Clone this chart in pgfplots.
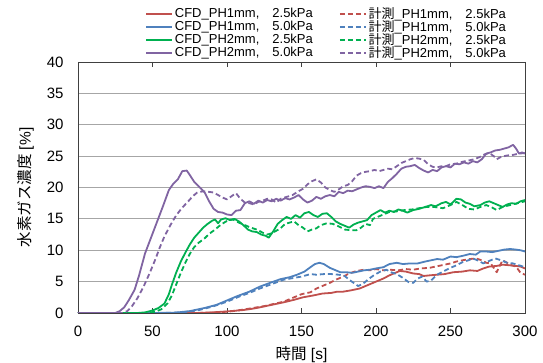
\documentclass[border=0pt]{standalone}
\usepackage{pgfplots}
\pgfplotsset{compat=1.18}
\usepackage{fontspec}
\setmainfont{Liberation Sans}
\newfontfamily\jp{Noto Sans CJK JP}
\definecolor{cred}{HTML}{C0504D}
\definecolor{cblue}{HTML}{4F81BD}
\definecolor{cgreen}{HTML}{00B050}
\definecolor{cpurple}{HTML}{8064A2}
\definecolor{axgray}{HTML}{404040}
\definecolor{grgray}{HTML}{A6A6A6}
\begin{document}
\begin{tikzpicture}
\begin{axis}[
  at={(0pt,0pt)}, anchor=south west,
  scale only axis, width=447pt, height=251pt,
  xmin=0, xmax=300, ymin=0, ymax=40,
  xtick={0,50,...,300}, ytick={0,5,...,40},
  ymajorgrids, grid style={grgray, line width=0.8pt},
  axis line style={axgray, line width=0.9pt},
  tick align=inside, major tick length=5pt,
  tick style={axgray, line width=0.8pt},
  ytick style={draw=none},
  /pgf/number format/assume math mode=true,
  ticklabel style={font=\fontsize{15}{16}\selectfont},
  xticklabel style={yshift=-9pt},
  yticklabel style={xshift=-11pt},
  xlabel={{\jp 時間} [s]},
  ylabel={{\jp 水素ガス濃度} [\%]},
  label style={font=\fontsize{15.5}{17}\selectfont},
  xlabel style={yshift=-3pt},
  ylabel style={yshift=6pt},
  legend columns=2,
  legend style={draw=none, fill=none, at={(rel axis cs:0.556,1.225)}, anchor=north,
    font=\fontsize{13}{13}\selectfont, row sep=-3.5pt, inner sep=0pt,
    /tikz/every even column/.style={column sep=24pt}},
  legend cell align=left,
  legend image code/.code={\draw[#1] (0pt,0pt) -- (26pt,0pt);},
  every axis plot/.append style={line width=1.8pt, line join=round},
]
% CFD PH1 2.5
\addplot[cred] coordinates {(0,0)(60,0)(80,0)(90,0.1)(100,0.25)(110,0.45)(115,0.6)(120,0.8)(130,1.3)(138,1.7)(145,2.1)(151,2.5)(158,2.8)(164,3.1)(170,3.2)(174,3.4)(178,3.4)(183,3.6)(189,3.9)(195,4.5)(200,5.0)(205,5.5)(209,6.0)(213,6.4)(216,6.7)(220,6.6)(225,6.3)(229,6.2)(232,5.9)(236,6.0)(241,6.1)(246,6.2)(252,6.5)(258,6.6)(263,6.8)(268,6.7)(272,7.1)(276,7.4)(281,7.5)(285,7.7)(290,7.6)(294,7.5)(297,7.4)(300,7.1)};
\addlegendentry{CFD\_PH1mm,\hspace{1em}2.5kPa}
% meas PH1 2.5
\addplot[cred, dash pattern=on 5pt off 3pt] coordinates {(0,0)(80,0)(95,0.1)(104,0.3)(115,0.7)(125,1.1)(138,1.8)(145,2.5)(150,3.0)(156,3.3)(160,3.9)(165,4.4)(169,4.8)(173,5.3)(178,5.8)(182,6.3)(187,6.7)(192,6.9)(196,6.8)(200,7.0)(205,6.8)(209,6.9)(215,6.8)(220,7.0)(225,6.9)(230,7.1)(236,7.2)(242,7.5)(246,7.7)(250,7.9)(254,8.2)(258,8.4)(263,8.6)(267,8.7)(271,8.4)(274,8.0)(277,7.9)(279,7.2)(281,6.5)(283,7.5)(285,8.4)(288,8.0)(291,7.6)(294,7.4)(297,6.4)(300,6.1)};
\addlegendentry{{\jp 計測}\_PH1mm,\hspace{1em}2.5kPa}
% CFD PH1 5.0
\addplot[cblue] coordinates {(0,0)(50,0)(65,0.05)(75,0.3)(85,0.8)(93,1.3)(100,2.0)(107,2.7)(115,3.4)(122,4.2)(130,4.9)(136,5.4)(142,5.7)(147,6.1)(152,6.6)(156,7.3)(159,7.8)(162,8.0)(165,7.8)(169,7.2)(173,6.8)(176,6.5)(180,6.5)(184,6.4)(188,6.6)(192,6.8)(196,6.9)(200,7.1)(205,7.3)(209,7.8)(214,8.0)(218,7.8)(223,7.9)(228,7.9)(233,8.2)(237,8.4)(241,8.6)(245,8.5)(250,9.0)(254,8.9)(258,9.1)(263,9.4)(267,9.3)(270,9.8)(274,9.8)(278,9.7)(282,9.9)(286,10.1)(290,10.2)(294,10.1)(297,10.0)(300,9.8)};
\addlegendentry{CFD\_PH1mm,\hspace{1em}5.0kPa}
% meas PH1 5.0
\addplot[cblue, dash pattern=on 5pt off 3pt] coordinates {(0,0)(55,0)(70,0.1)(80,0.4)(90,1.0)(100,1.8)(108,2.6)(115,3.2)(122,3.9)(130,4.6)(138,5.3)(145,5.6)(150,5.8)(156,6.2)(160,6.1)(165,6.2)(170,6.2)(175,6.1)(179,5.9)(182,5.3)(185,4.8)(188,4.3)(191,4.6)(195,5.4)(199,6.1)(203,6.6)(207,6.9)(210,6.5)(214,6.2)(218,5.6)(222,4.9)(225,4.8)(228,5.5)(231,5.8)(234,5.0)(237,5.2)(241,6.1)(245,6.6)(250,7.2)(254,7.6)(258,8.1)(262,8.4)(265,8.7)(269,8.3)(272,7.9)(276,8.3)(280,8.7)(284,8.4)(288,8.0)(292,7.9)(296,7.6)(300,7.3)};
\addlegendentry{{\jp 計測}\_PH1mm,\hspace{1em}5.0kPa}
% CFD PH2 2.5
\addplot[cgreen] coordinates {(0,0)(40,0)(45,0.1)(50,0.4)(54,0.8)(58,1.5)(61,3.0)(63,4.5)(66,6.5)(69,8.2)(72,9.6)(75,10.9)(78,12.0)(81,12.8)(84,13.6)(87,14.2)(90,14.7)(92,14.9)(94,14.3)(96,14.9)(99,15.1)(102,14.8)(105,15.0)(108,14.6)(111,14.0)(114,13.3)(117,13.0)(120,12.9)(123,12.5)(126,12.3)(128,12.0)(131,13.0)(134,14.2)(137,14.8)(140,15.3)(143,15.0)(146,15.6)(149,15.2)(152,15.9)(155,16.1)(158,15.6)(161,15.3)(164,15.8)(167,15.9)(170,15.3)(173,14.6)(176,14.2)(179,13.9)(182,13.6)(185,14.1)(188,14.4)(191,14.6)(194,14.8)(197,15.6)(200,16.0)(203,16.4)(206,16.0)(209,16.3)(212,16.1)(215,16.5)(218,16.3)(221,16.0)(225,16.4)(229,16.6)(233,16.9)(237,17.2)(240,17.0)(244,17.5)(247,17.7)(250,17.3)(254,18.2)(257,18.1)(260,17.6)(263,17.4)(266,17.0)(270,17.2)(273,17.6)(276,17.8)(279,17.5)(282,17.2)(285,16.9)(288,17.3)(291,17.5)(294,17.4)(297,17.8)(300,18.0)};
\addlegendentry{CFD\_PH2mm,\hspace{1em}2.5kPa}
% meas PH2 2.5
\addplot[cgreen, dash pattern=on 5pt off 3pt] coordinates {(0,0)(45,0)(52,0.2)(56,0.6)(60,1.5)(63,2.8)(66,4.6)(69,6.4)(72,8.0)(75,9.4)(78,10.5)(81,11.2)(85,11.9)(88,12.6)(92,13.3)(95,13.9)(98,14.4)(101,14.8)(104,14.9)(108,14.4)(112,14.0)(116,13.6)(120,13.3)(124,12.8)(127,12.5)(130,12.7)(133,13.1)(136,13.5)(139,14.2)(142,14.4)(145,14.6)(148,14.0)(151,13.6)(154,13.0)(157,13.3)(160,13.5)(163,14.0)(167,14.3)(171,14.2)(175,13.8)(179,13.3)(183,13.2)(187,13.2)(190,13.6)(193,14.2)(196,14.0)(198,15.0)(201,15.3)(205,15.7)(209,16.1)(214,16.2)(219,16.4)(224,16.5)(229,16.7)(234,16.9)(239,16.9)(245,16.7)(250,17.2)(254,17.7)(258,17.2)(262,16.6)(266,16.5)(270,16.9)(274,17.2)(278,16.8)(281,16.4)(285,16.9)(290,17.2)(295,17.5)(300,17.8)};
\addlegendentry{{\jp 計測}\_PH2mm,\hspace{1em}2.5kPa}
% CFD PH2 5.0
\addplot[cpurple] coordinates {(0,0)(25,0)(28,0.3)(31,0.9)(34,2.0)(38,3.7)(41,6.0)(45,9.5)(49,12.0)(53,14.5)(57,17.0)(61,19.6)(64,20.6)(67,21.3)(70,22.6)(73,22.7)(75,22.0)(78,20.9)(81,20.2)(85,19.2)(88,17.8)(91,16.6)(94,16.1)(97,16.0)(100,15.7)(103,15.6)(106,16.3)(109,16.4)(112,17.5)(115,17.8)(118,17.4)(121,17.9)(124,17.6)(127,18.0)(130,17.8)(133,18.2)(136,17.9)(139,18.3)(142,18.1)(145,18.4)(148,18.8)(151,18.1)(154,17.6)(157,17.9)(160,18.5)(163,18.2)(166,18.6)(169,18.8)(172,18.6)(175,19.3)(178,19.1)(181,19.5)(184,19.4)(187,19.7)(190,20.0)(193,20.2)(196,20.1)(199,19.9)(202,20.2)(205,19.9)(208,20.9)(211,21.5)(214,22.2)(217,23.0)(220,23.3)(223,23.4)(226,23.6)(229,23.1)(232,22.7)(235,22.4)(238,22.8)(241,22.6)(244,23.2)(247,23.4)(250,23.2)(253,23.8)(256,23.7)(259,24.0)(262,23.8)(265,24.2)(268,24.0)(271,24.5)(274,25.4)(277,25.6)(280,25.9)(283,26.0)(286,26.2)(289,26.4)(292,26.8)(294,26.2)(296,25.4)(298,25.6)(300,25.4)};
\addlegendentry{CFD\_PH2mm,\hspace{1em}5.0kPa}
% meas PH2 5.0
\addplot[cpurple, dash pattern=on 5pt off 3pt] coordinates {(0,0)(30,0)(33,0.3)(36,1.0)(40,2.4)(44,4.2)(48,6.3)(52,8.6)(55,10.5)(58,12.2)(62,14.0)(66,15.6)(70,16.8)(74,17.8)(77,18.6)(80,19.2)(84,19.4)(88,19.3)(91,19.2)(94,18.8)(97,18.4)(100,18.1)(103,18.6)(106,19.1)(109,18.2)(112,17.6)(115,17.5)(118,17.3)(121,17.7)(124,17.9)(127,18.2)(130,18.1)(133,17.6)(136,18.2)(140,18.5)(144,18.8)(148,19.4)(151,19.8)(154,20.5)(157,21.0)(160,21.3)(163,20.8)(166,20.0)(169,19.6)(172,19.3)(175,19.7)(178,20.2)(181,20.4)(184,21.0)(187,21.9)(190,22.3)(193,22.5)(196,22.6)(199,22.8)(202,22.6)(205,22.8)(208,23.0)(211,22.9)(214,23.4)(217,23.9)(220,24.2)(223,24.5)(226,24.7)(229,24.6)(232,24.4)(235,23.7)(238,23.3)(241,23.2)(244,23.4)(247,23.4)(250,23.7)(254,23.8)(258,24.1)(262,24.3)(266,24.5)(270,24.9)(273,25.3)(276,25.5)(279,25.0)(281,24.5)(284,24.9)(288,25.1)(292,25.2)(296,25.4)(300,25.5)};
\addlegendentry{{\jp 計測}\_PH2mm,\hspace{1em}5.0kPa}
\end{axis}
\pgfresetboundingbox
\useasboundingbox (-78pt,-50pt) rectangle (465pt,313pt);
\end{tikzpicture}
\end{document}
